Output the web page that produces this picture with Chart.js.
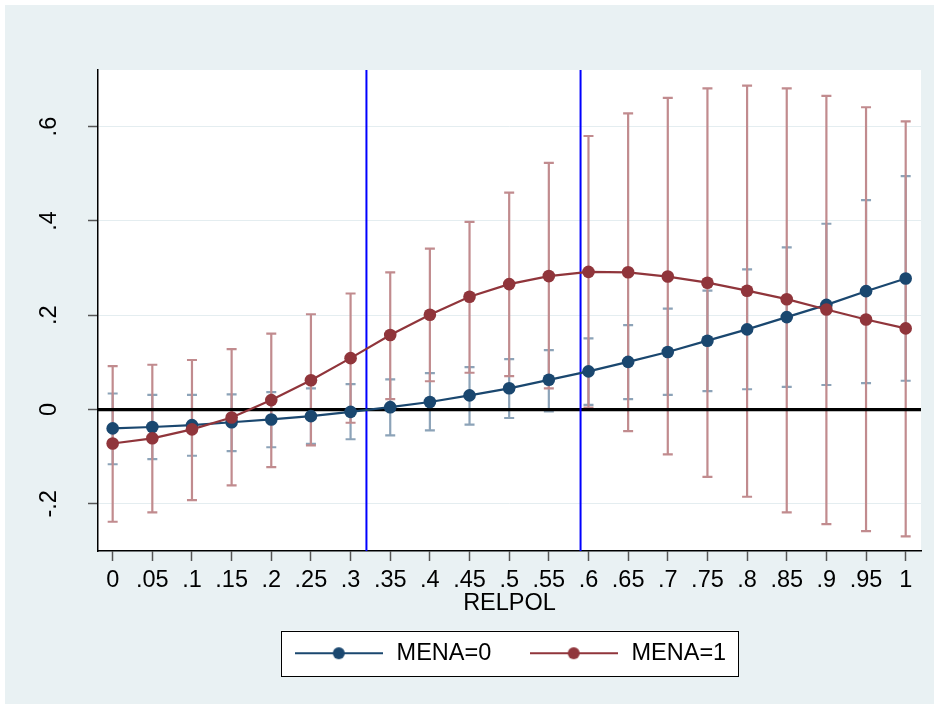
<!DOCTYPE html>
<html>
<head>
<meta charset="utf-8">
<script src="https://cdn.jsdelivr.net/npm/chart.js@4.4.1/dist/chart.umd.min.js"></script>
<style>
  html, body { margin: 0; padding: 0; background: #fff; }
  #wrap { position: absolute; left: 5px; top: 5px; width: 929px; height: 699px; background: #e9f1f3; }
</style>
</head>
<body>
<div id="wrap"><canvas id="marginsChart"></canvas></div>
<script>
// RELPOL values on the x axis
const xVals = [0, 0.05, 0.1, 0.15, 0.2, 0.25, 0.3, 0.35, 0.4, 0.45, 0.5,
               0.55, 0.6, 0.65, 0.7, 0.75, 0.8, 0.85, 0.9, 0.95, 1];

// MENA=0 : estimate and confidence interval
const mena0   = [-0.040, -0.037, -0.033, -0.027, -0.021, -0.014, -0.005, 0.005, 0.016, 0.030, 0.045,
                 0.063, 0.081, 0.101, 0.122, 0.146, 0.170, 0.196, 0.222, 0.251, 0.278];
const mena0Lo = [-0.116, -0.105, -0.098, -0.088, -0.080, -0.073, -0.063, -0.055, -0.044, -0.032, -0.018,
                 -0.004, 0.010, 0.022, 0.031, 0.039, 0.043, 0.048, 0.052, 0.056, 0.061];
const mena0Hi = [0.034, 0.031, 0.031, 0.032, 0.037, 0.045, 0.054, 0.064, 0.077, 0.090, 0.107,
                 0.126, 0.151, 0.179, 0.214, 0.252, 0.297, 0.344, 0.394, 0.444, 0.495];

// MENA=1 : estimate and confidence interval
const mena1   = [-0.072, -0.061, -0.042, -0.017, 0.020, 0.062, 0.109, 0.158, 0.201, 0.239, 0.266,
                 0.283, 0.292, 0.291, 0.282, 0.269, 0.252, 0.234, 0.212, 0.191, 0.172];
const mena1Lo = [-0.238, -0.218, -0.192, -0.161, -0.122, -0.076, -0.028, 0.022, 0.060, 0.078, 0.071,
                 0.045, 0.004, -0.046, -0.095, -0.143, -0.185, -0.218, -0.243, -0.258, -0.269];
const mena1Hi = [0.092, 0.095, 0.105, 0.128, 0.161, 0.202, 0.246, 0.291, 0.341, 0.398, 0.460,
                 0.523, 0.580, 0.628, 0.661, 0.681, 0.687, 0.681, 0.665, 0.641, 0.611];

// ticks and reference lines
const xTicks = xVals;
const xTickLabels = ['0', '.05', '.1', '.15', '.2', '.25', '.3', '.35', '.4', '.45', '.5',
                     '.55', '.6', '.65', '.7', '.75', '.8', '.85', '.9', '.95', '1'];
const yTicks = [-0.2, 0, 0.2, 0.4, 0.6];
const yTickLabels = ['-.2', '0', '.2', '.4', '.6'];
const refLines = [0.32, 0.59];

const navy = '#1a476f';
const maroon = '#90353b';
const FS = 23.5;

Chart.defaults.font.family = '"Liberation Sans", Arial, sans-serif';
Chart.defaults.font.size = FS;
Chart.defaults.color = '#000';

function legendIcon(color) {
    const c = document.createElement('canvas');
    c.width = 88; c.height = 14;
    const g = c.getContext('2d');
    g.strokeStyle = color; g.lineWidth = 2.2;
    g.beginPath(); g.moveTo(0, 7); g.lineTo(88, 7); g.stroke();
    g.fillStyle = color;
    g.beginPath(); g.arc(44, 7, 6, 0, Math.PI * 2); g.fill();
    return c;
}
const legendIcons = [legendIcon(navy), legendIcon(maroon)];

function drawCI(ctx, xs, ys, lo, hi, color) {
    ctx.save();
    ctx.strokeStyle = color;
    ctx.lineWidth = 2.2;
    xVals.forEach((v, i) => {
        const px = xs.getPixelForValue(v);
        const p1 = ys.getPixelForValue(lo[i]);
        const p2 = ys.getPixelForValue(hi[i]);
        ctx.beginPath();
        ctx.moveTo(px, p1); ctx.lineTo(px, p2);
        ctx.moveTo(px - 5, p1); ctx.lineTo(px + 5, p1);
        ctx.moveTo(px - 5, p2); ctx.lineTo(px + 5, p2);
        ctx.stroke();
    });
    ctx.restore();
}

// plot background, legend frame, CIs and added lines
const statPlugin = {
    id: 'statPlugin',
    beforeDraw(chart) {
        const { ctx, chartArea: a } = chart;
        ctx.save();
        ctx.fillStyle = '#fff';
        ctx.fillRect(a.left, a.top, a.right - a.left, a.bottom - a.top);

        const lg = chart.legend;
        const pad = lg.options.labels.padding;
        const span = lg.lineWidths[0] - pad;
        const cx = (lg.left + lg.right) / 2;
        const cy = lg.top + pad + FS / 2;
        ctx.fillRect(cx - span / 2 - 12, cy - 22.7, span + 24, 45.4);
        ctx.strokeStyle = '#000';
        ctx.lineWidth = 1;
        ctx.strokeRect(Math.round(cx - span / 2 - 12) + 0.5, Math.round(cy - 22.7) + 0.5, Math.round(span + 24), 45);
        ctx.restore();
    },
    beforeDatasetsDraw(chart) {
        const { ctx, chartArea: a, scales: { x, y } } = chart;
        drawCI(ctx, x, y, mena0Lo, mena0Hi, '#8ca3b8');
        drawCI(ctx, x, y, mena1Lo, mena1Hi, '#c18b8e');

        ctx.save();
        const y0 = y.getPixelForValue(0);
        ctx.strokeStyle = '#000';
        ctx.lineWidth = 3.3;
        ctx.beginPath(); ctx.moveTo(a.left, y0); ctx.lineTo(a.right, y0); ctx.stroke();

        ctx.strokeStyle = '#0000ff';
        ctx.lineWidth = 2;
        refLines.forEach(v => {
            const px = x.getPixelForValue(v);
            ctx.beginPath(); ctx.moveTo(px, a.top); ctx.lineTo(px, a.bottom); ctx.stroke();
        });
        ctx.restore();
    }
};

const ctx = document.getElementById('marginsChart').getContext('2d');
const marginsChart = new Chart(ctx, {
    type: 'scatter',
    data: {
        datasets: [{
            label: 'MENA=0',
            data: xVals.map((v, i) => ({ x: v, y: mena0[i] })),
            showLine: true,
            borderColor: navy,
            backgroundColor: navy,
            borderWidth: 2.2,
            pointRadius: 6.3,
            pointBorderWidth: 0,
            order: 2
        }, {
            label: 'MENA=1',
            data: xVals.map((v, i) => ({ x: v, y: mena1[i] })),
            showLine: true,
            borderColor: maroon,
            backgroundColor: maroon,
            borderWidth: 2.2,
            pointRadius: 6.3,
            pointBorderWidth: 0,
            order: 1
        }]
    },
    options: {
        animation: false,
        responsive: true,
        maintainAspectRatio: false,
        events: [],
        layout: { padding: { top: 65, right: 13, bottom: 29, left: 0 } },
        scales: {
            x: {
                type: 'linear',
                min: -0.0185,
                max: 1.0193,
                afterBuildTicks: s => { s.ticks = xTicks.map(v => ({ value: v })); },
                afterFit: s => { s.height = 54; },
                ticks: {
                    autoSkip: false, minRotation: 0, maxRotation: 0, padding: 5,
                    callback: (v, i) => xTickLabels[i]
                },
                grid: { drawOnChartArea: false, tickLength: 10, tickColor: '#555', tickWidth: 1.5 },
                border: { display: true, color: '#000', width: 1.5 },
                title: { display: true, text: 'RELPOL', padding: { top: 0, bottom: -12.4 } }
            },
            y: {
                type: 'linear',
                min: -0.3,
                max: 0.72,
                afterBuildTicks: s => { s.ticks = yTicks.map(v => ({ value: v })); },
                afterFit: s => { s.width = 93; },
                ticks: {
                    minRotation: 90, maxRotation: 90, crossAlign: 'center', padding: 25,
                    callback: (v, i) => yTickLabels[i]
                },
                grid: {
                    color: c => (c.tick && c.tick.value === 0) ? 'rgba(0,0,0,0)' : '#e4edf0',
                    lineWidth: 1,
                    tickLength: 10, tickColor: '#555', tickWidth: 1.5
                },
                border: { display: true, color: '#000', width: 1.5 }
            }
        },
        plugins: {
            tooltip: { enabled: false },
            legend: {
                position: 'bottom',
                fullSize: false,
                labels: {
                    usePointStyle: true,
                    pointStyleWidth: 92,
                    padding: 36.5,
                    generateLabels: chart => Chart.defaults.plugins.legend.labels.generateLabels(chart)
                        .sort((a, b) => a.datasetIndex - b.datasetIndex)
                        .map(it => Object.assign(it, { pointStyle: legendIcons[it.datasetIndex] }))
                }
            }
        }
    },
    plugins: [statPlugin]
});
</script>
</body>
</html>
